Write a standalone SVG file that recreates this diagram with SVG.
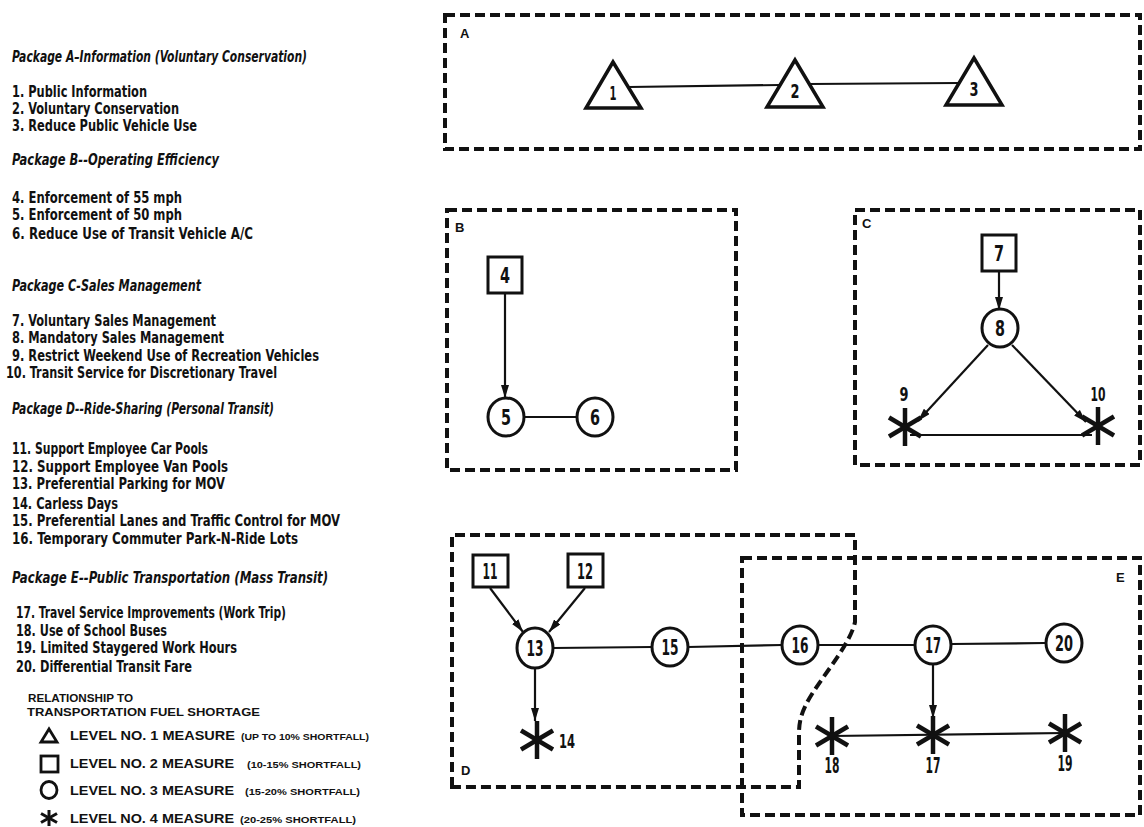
<svg xmlns="http://www.w3.org/2000/svg" width="1144" height="827" viewBox="0 0 1144 827">
<style>
.t{font-family:"Liberation Sans Narrow","DejaVu Sans Condensed","Liberation Sans",sans-serif;font-weight:bold;font-size:16px;fill:#111}
.h{font-style:italic}
.lg{font-family:"Liberation Sans","DejaVu Sans",sans-serif;font-weight:bold;font-size:13.5px;fill:#111}
.lgs{font-size:9px}
.box{fill:none;stroke:#111;stroke-width:4;stroke-dasharray:10 5}
.nd{fill:#fff;stroke:#111;stroke-width:3}
.tri{fill:#fff;stroke:#111;stroke-width:3.5;stroke-linejoin:miter}
.e{stroke:#111;stroke-width:2.2;fill:none}
.a{marker-end:url(#ah)}
.num{font-family:"DejaVu Sans Condensed","Liberation Sans",sans-serif;font-weight:bold;font-size:22px;text-anchor:middle;fill:#111}
.lab{font-family:"Liberation Sans","DejaVu Sans",sans-serif;font-weight:bold;font-size:13px;fill:#111}
.ast line{stroke:#111;stroke-width:4.5}
</style>
<defs>
<marker id="ah" markerUnits="userSpaceOnUse" markerWidth="13" markerHeight="8" refX="13" refY="4" orient="auto"><path d="M0,0 L13,4 L0,8 z" fill="#111"/></marker>
<g id="ast" class="ast"><line x1="0" y1="-19" x2="0" y2="19"/><line x1="-16" y1="-9.5" x2="16" y2="9.5"/><line x1="-16" y1="9.5" x2="16" y2="-9.5"/></g>
<g id="astS" class="ast"><line x1="0" y1="-8" x2="0" y2="8" style="stroke-width:3"/><line x1="-8" y1="-4.5" x2="8" y2="4.5" style="stroke-width:3"/><line x1="-8" y1="4.5" x2="8" y2="-4.5" style="stroke-width:3"/></g>
</defs>
<rect width="1144" height="827" fill="#fff"/>

<g id="legend-text">
<text class="t h" x="12" y="62" textLength="295" lengthAdjust="spacingAndGlyphs">Package A–Information (Voluntary Conservation)</text>
<text class="t" x="12" y="97" textLength="135" lengthAdjust="spacingAndGlyphs">1. Public Information</text>
<text class="t" x="12" y="114" textLength="167" lengthAdjust="spacingAndGlyphs">2. Voluntary Conservation</text>
<text class="t" x="12" y="131" textLength="185" lengthAdjust="spacingAndGlyphs">3. Reduce Public Vehicle Use</text>
<text class="t h" x="12" y="165" textLength="207" lengthAdjust="spacingAndGlyphs">Package B--Operating Efficiency</text>
<text class="t" x="12" y="203" textLength="170" lengthAdjust="spacingAndGlyphs">4. Enforcement of 55 mph</text>
<text class="t" x="12" y="220" textLength="170" lengthAdjust="spacingAndGlyphs">5. Enforcement of 50 mph</text>
<text class="t" x="12" y="239" textLength="241" lengthAdjust="spacingAndGlyphs">6. Reduce Use of Transit Vehicle A/C</text>
<text class="t h" x="12" y="291" textLength="189" lengthAdjust="spacingAndGlyphs">Package C-Sales Management</text>
<text class="t" x="12" y="326" textLength="204" lengthAdjust="spacingAndGlyphs">7. Voluntary Sales Management</text>
<text class="t" x="12" y="343" textLength="212" lengthAdjust="spacingAndGlyphs">8. Mandatory Sales Management</text>
<text class="t" x="12" y="361" textLength="307" lengthAdjust="spacingAndGlyphs">9. Restrict Weekend Use of Recreation Vehicles</text>
<text class="t" x="6" y="378" textLength="271" lengthAdjust="spacingAndGlyphs">10. Transit Service for Discretionary Travel</text>
<text class="t h" x="12" y="414" textLength="262" lengthAdjust="spacingAndGlyphs">Package D--Ride-Sharing (Personal Transit)</text>
<text class="t" x="12" y="454" textLength="196" lengthAdjust="spacingAndGlyphs">11. Support Employee Car Pools</text>
<text class="t" x="12" y="472" textLength="216" lengthAdjust="spacingAndGlyphs">12. Support Employee Van Pools</text>
<text class="t" x="12" y="489" textLength="213" lengthAdjust="spacingAndGlyphs">13. Preferential Parking for MOV</text>
<text class="t" x="12" y="509" textLength="106" lengthAdjust="spacingAndGlyphs">14. Carless Days</text>
<text class="t" x="12" y="526" textLength="328" lengthAdjust="spacingAndGlyphs">15. Preferential Lanes and Traffic Control for MOV</text>
<text class="t" x="12" y="544" textLength="286" lengthAdjust="spacingAndGlyphs">16. Temporary Commuter Park-N-Ride Lots</text>
<text class="t h" x="12" y="583" textLength="316" lengthAdjust="spacingAndGlyphs">Package E--Public Transportation (Mass Transit)</text>
<text class="t" x="16" y="618" textLength="270" lengthAdjust="spacingAndGlyphs">17. Travel Service Improvements (Work Trip)</text>
<text class="t" x="16" y="636" textLength="151" lengthAdjust="spacingAndGlyphs">18. Use of School Buses</text>
<text class="t" x="16" y="653" textLength="221" lengthAdjust="spacingAndGlyphs">19. Limited Staygered Work Hours</text>
<text class="t" x="16" y="672" textLength="176" lengthAdjust="spacingAndGlyphs">20. Differential Transit Fare</text>
<text class="lg" x="28" y="702" style="font-size:10.5px" textLength="105" lengthAdjust="spacingAndGlyphs">RELATIONSHIP TO</text>
<text class="lg" x="27" y="716" style="font-size:10.5px" textLength="233" lengthAdjust="spacingAndGlyphs">TRANSPORTATION FUEL SHORTAGE</text>
</g>

<g id="legend-symbols">
<polygon class="tri" points="49,729 41,742 57,742" style="stroke-width:2.8"/>
<rect class="nd" x="41" y="756" width="17" height="16" style="stroke-width:2.8"/>
<ellipse class="nd" cx="49" cy="790" rx="8" ry="8.5" style="stroke-width:2.8"/>
<use href="#astS" transform="translate(49,818)"/>
<text class="lg" x="70" y="740"><tspan textLength="165" lengthAdjust="spacingAndGlyphs">LEVEL NO. 1 MEASURE</tspan><tspan class="lgs" x="241" textLength="128" lengthAdjust="spacingAndGlyphs">(UP TO 10% SHORTFALL)</tspan></text>
<text class="lg" x="70" y="768"><tspan textLength="164" lengthAdjust="spacingAndGlyphs">LEVEL NO. 2 MEASURE</tspan><tspan class="lgs" x="247" textLength="114" lengthAdjust="spacingAndGlyphs">(10-15% SHORTFALL)</tspan></text>
<text class="lg" x="70" y="795"><tspan textLength="164" lengthAdjust="spacingAndGlyphs">LEVEL NO. 3 MEASURE</tspan><tspan class="lgs" x="245" textLength="115" lengthAdjust="spacingAndGlyphs">(15-20% SHORTFALL)</tspan></text>
<text class="lg" x="70" y="823"><tspan textLength="164" lengthAdjust="spacingAndGlyphs">LEVEL NO. 4 MEASURE</tspan><tspan class="lgs" x="240" textLength="116" lengthAdjust="spacingAndGlyphs">(20-25% SHORTFALL)</tspan></text>
</g>

<g id="packages">
<rect id="pkgA" class="box" x="445" y="15" width="695" height="134"/>
<text class="lab" x="460" y="38">A</text>
<rect id="pkgB" class="box" x="447" y="210" width="289" height="260"/>
<text class="lab" x="455" y="232">B</text>
<rect id="pkgC" class="box" x="855" y="210" width="285" height="255"/>
<text class="lab" x="862" y="228">C</text>
<path id="pkgD" class="box" d="M452,787 V535 H855 V622 C851,642 826,672 812,694 C802,710 799,720 799,734 V787 Z"/>
<text class="lab" x="461" y="775">D</text>
<rect id="pkgE" class="box" x="742" y="558" width="398" height="257"/>
<text class="lab" x="1116" y="582">E</text>
</g>

<g id="connectors">
<line class="e" x1="629" y1="87" x2="780" y2="85"/>
<line class="e" x1="809" y1="84" x2="959" y2="83"/>
<line class="e a" x1="505" y1="294" x2="505" y2="398"/>
<line class="e" x1="524" y1="417" x2="577" y2="417"/>
<line class="e a" x1="999" y1="272" x2="999" y2="310"/>
<line class="e a" x1="988" y1="345" x2="918" y2="421"/>
<line class="e a" x1="1012" y1="345" x2="1086" y2="422"/>
<line class="e" x1="910" y1="435" x2="1092" y2="435"/>
<line class="e a" x1="490" y1="588" x2="523" y2="632"/>
<line class="e a" x1="585" y1="588" x2="549" y2="632"/>
<line class="e" x1="553" y1="648" x2="652" y2="647"/>
<line class="e" x1="688" y1="647" x2="782" y2="645"/>
<line class="e" x1="818" y1="645" x2="915" y2="645"/>
<line class="e" x1="951" y1="644" x2="1045" y2="643"/>
<line class="e a" x1="535" y1="668" x2="535" y2="721"/>
<line class="e a" x1="933" y1="664" x2="933" y2="718"/>
<line class="e" x1="832" y1="736" x2="1065" y2="733"/>
</g>

<g id="n1"><polygon class="tri" points="613,62 586,108 641,108"/><text class="num" x="613" y="100" style="font-size:19px" textLength="7" lengthAdjust="spacingAndGlyphs">1</text></g>
<g id="n2"><polygon class="tri" points="795,60 767,107 823,107"/><text class="num" x="795" y="98" style="font-size:19px" textLength="9" lengthAdjust="spacingAndGlyphs">2</text></g>
<g id="n3"><polygon class="tri" points="974,58 946,105 1002,105"/><text class="num" x="974" y="96" style="font-size:19px" textLength="9" lengthAdjust="spacingAndGlyphs">3</text></g>

<g id="n4"><rect class="nd" x="488" y="257" width="34" height="36"/><text class="num" x="505" y="283" textLength="10" lengthAdjust="spacingAndGlyphs">4</text></g>
<g id="n5"><ellipse class="nd" cx="506" cy="417" rx="18" ry="19"/><text class="num" x="506" y="425" textLength="10" lengthAdjust="spacingAndGlyphs">5</text></g>
<g id="n6"><ellipse class="nd" cx="595" cy="417" rx="18" ry="19"/><text class="num" x="595" y="425" textLength="10" lengthAdjust="spacingAndGlyphs">6</text></g>

<g id="n7"><rect class="nd" x="982" y="235" width="34" height="36"/><text class="num" x="999" y="261" textLength="10" lengthAdjust="spacingAndGlyphs">7</text></g>
<g id="n8"><ellipse class="nd" cx="1000" cy="328" rx="18" ry="19"/><text class="num" x="1000" y="336" textLength="10" lengthAdjust="spacingAndGlyphs">8</text></g>
<g id="n9"><use href="#ast" transform="translate(905,427)"/><text class="num" x="904" y="401" style="font-size:19px" textLength="9" lengthAdjust="spacingAndGlyphs">9</text></g>
<g id="n10"><use href="#ast" transform="translate(1098,426)"/><text class="num" x="1098" y="401" style="font-size:19px" textLength="15" lengthAdjust="spacingAndGlyphs">10</text></g>

<g id="n11"><rect class="nd" x="473" y="555" width="35" height="32"/><text class="num" x="490" y="579" textLength="15" lengthAdjust="spacingAndGlyphs">11</text></g>
<g id="n12"><rect class="nd" x="568" y="554" width="35" height="33"/><text class="num" x="585" y="579" textLength="16" lengthAdjust="spacingAndGlyphs">12</text></g>
<g id="n13"><ellipse class="nd" cx="535" cy="648" rx="18" ry="20"/><text class="num" x="535" y="656" textLength="17" lengthAdjust="spacingAndGlyphs">13</text></g>
<g id="n14"><use href="#ast" transform="translate(537,740)"/><text class="num" x="567" y="748" style="font-size:20px" textLength="16" lengthAdjust="spacingAndGlyphs">14</text></g>
<g id="n15"><ellipse class="nd" cx="670" cy="647" rx="18" ry="19"/><text class="num" x="670" y="655" textLength="17" lengthAdjust="spacingAndGlyphs">15</text></g>
<g id="n16"><ellipse class="nd" cx="800" cy="645" rx="18" ry="19"/><text class="num" x="800" y="653" textLength="17" lengthAdjust="spacingAndGlyphs">16</text></g>
<g id="n17"><ellipse class="nd" cx="933" cy="645" rx="18" ry="19"/><text class="num" x="933" y="653" textLength="16" lengthAdjust="spacingAndGlyphs">17</text></g>
<g id="n20"><ellipse class="nd" cx="1064" cy="643" rx="18" ry="19"/><text class="num" x="1064" y="651" textLength="18" lengthAdjust="spacingAndGlyphs">20</text></g>
<g id="n18"><use href="#ast" transform="translate(832,736)"/><text class="num" x="832" y="773" textLength="15" lengthAdjust="spacingAndGlyphs">18</text></g>
<g id="n17b"><use href="#ast" transform="translate(933,735)"/><text class="num" x="933" y="773" textLength="15" lengthAdjust="spacingAndGlyphs">17</text></g>
<g id="n19"><use href="#ast" transform="translate(1065,733)"/><text class="num" x="1065" y="771" textLength="15" lengthAdjust="spacingAndGlyphs">19</text></g>
</svg>
